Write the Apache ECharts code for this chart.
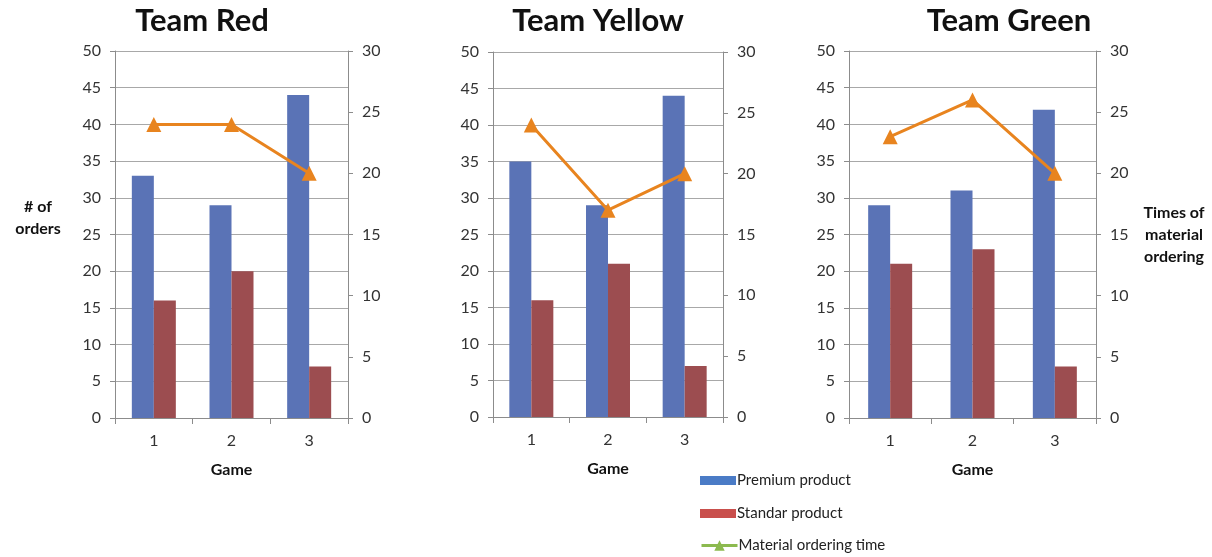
<!DOCTYPE html>
<html>
<head>
<meta charset="utf-8">
<script src="https://cdn.jsdelivr.net/npm/echarts@6/dist/echarts.min.js"></script>
<style>
  html, body { margin: 0; padding: 0; background: #ffffff; }
  #chart { width: 1212px; height: 557px; }
</style>
</head>
<body>
<div id="chart"></div>
<script>
// Game numbers on the category axis
const games = ['1', '2', '3'];
const teamNames = ['Team Red', 'Team Yellow', 'Team Green'];

// Orders of premium / standard product per game, and times material was ordered
const premiumRed = [33, 29, 44];
const standardRed = [16, 20, 7];
const orderingRed = [24, 24, 20];

const premiumYellow = [35, 29, 44];
const standardYellow = [16, 21, 7];
const orderingYellow = [24, 17, 20];

const premiumGreen = [29, 31, 42];
const standardGreen = [21, 23, 7];
const orderingGreen = [23, 26, 20];

const seriesNames = ['Premium product', 'Standar product', 'Material ordering time'];

const premiumSets = [premiumRed, premiumYellow, premiumGreen];
const standardSets = [standardRed, standardYellow, standardGreen];
const orderingSets = [orderingRed, orderingYellow, orderingGreen];

const FONT = 'Lato, "Open Sans", sans-serif';
const BLUE = '#5a73b6';
const RED = '#9c4d50';
const ORANGE = '#e8841f';
const GRID_LINE = '#a8a8a8';
const AXIS_LINE = '#8c8c8c';
const LABEL = '#333333';

const grids = [
  { left: 115, top: 51, width: 233, height: 367 },
  { left: 493, top: 52, width: 230, height: 365 },
  { left: 849, top: 51, width: 247, height: 367 }
];
const titleCenters = [197, 593, 1004];

const chart = echarts.init(document.getElementById('chart'));

const xAxes = [], yAxes = [], series = [], titles = [];

grids.forEach((g, i) => {
  titles.push({
    text: teamNames[i],
    left: titleCenters[i],
    top: 0,
    textAlign: 'center',
    textStyle: { fontFamily: FONT, fontWeight: 'bold', fontSize: 31, color: '#111111' }
  });

  xAxes.push({
    type: 'category',
    gridIndex: i,
    data: games,
    name: 'Game',
    nameLocation: 'middle',
    nameGap: 44,
    nameTextStyle: { fontFamily: FONT, fontWeight: 'bold', fontSize: 16, color: '#111111' },
    axisLine: { lineStyle: { color: AXIS_LINE, width: 1 } },
    axisTick: { show: true, length: 6, lineStyle: { color: AXIS_LINE } },
    axisLabel: { fontFamily: FONT, fontSize: 16, color: LABEL, margin: 15 }
  });

  // left value axis (orders)
  yAxes.push({
    type: 'value',
    gridIndex: i,
    position: 'left',
    min: 0, max: 50, interval: 5,
    axisLine: { show: true, lineStyle: { color: AXIS_LINE, width: 1 } },
    axisTick: { show: true, length: 5, lineStyle: { color: AXIS_LINE } },
    axisLabel: { fontFamily: FONT, fontSize: 16, color: LABEL, margin: 14 },
    splitLine: { show: true, lineStyle: { color: GRID_LINE, width: 1 } }
  });

  // right value axis (times of material ordering)
  yAxes.push({
    type: 'value',
    gridIndex: i,
    position: 'right',
    min: 0, max: 30, interval: 5,
    name: i === 2 ? 'Times of\nmaterial\nordering' : '',
    nameLocation: 'middle',
    nameRotate: 0,
    nameGap: 78,
    nameTextStyle: { fontFamily: FONT, fontWeight: 'bold', fontSize: 16, color: '#111111', lineHeight: 22, align: 'center' },
    axisLine: { show: true, lineStyle: { color: AXIS_LINE, width: 1 } },
    axisTick: { show: true, length: 5, lineStyle: { color: AXIS_LINE } },
    axisLabel: { fontFamily: FONT, fontSize: 16, color: LABEL, margin: 14 },
    splitLine: { show: false }
  });

  series.push({
    name: seriesNames[0],
    type: 'bar',
    xAxisIndex: i,
    yAxisIndex: i * 2,
    data: premiumSets[i],
    barWidth: 22,
    barGap: '0%',
    itemStyle: { color: BLUE }
  });
  series.push({
    name: seriesNames[1],
    type: 'bar',
    xAxisIndex: i,
    yAxisIndex: i * 2,
    data: standardSets[i],
    barWidth: 22,
    barGap: '0%',
    itemStyle: { color: RED }
  });
  series.push({
    name: seriesNames[2],
    type: 'line',
    xAxisIndex: i,
    yAxisIndex: i * 2 + 1,
    data: orderingSets[i],
    symbol: 'triangle',
    symbolSize: 15,
    lineStyle: { color: ORANGE, width: 3 },
    itemStyle: { color: ORANGE },
    z: 5
  });
});

// caption of the shared left value axis, beside the first panel
titles.push({
  text: '# of\norders',
  left: 38,
  top: 196,
  textAlign: 'center',
  padding: 0,
  textStyle: { fontFamily: FONT, fontWeight: 'bold', fontSize: 16, color: '#111111', lineHeight: 22 }
});

// one legend block per entry, stacked beneath the middle panel
const legendEntries = [
  { name: seriesNames[0], icon: 'rect', itemStyle: { color: '#4a7bc6' } },
  { name: seriesNames[1], icon: 'rect', itemStyle: { color: '#c94f4c' } },
  { name: seriesNames[2], itemStyle: { color: '#8cba4f' }, lineStyle: { color: '#8cba4f', width: 3 } }
];
const legendTops = [473, 506, 538];
const legendIconHeights = [9, 9, 13];
const legends = legendEntries.map((entry, k) => ({
  orient: 'vertical',
  left: 700,
  top: legendTops[k],
  padding: 0,
  itemWidth: 36,
  itemHeight: legendIconHeights[k],
  itemGap: 0,
  textStyle: { fontFamily: FONT, fontSize: 15, color: '#222222', padding: [0, 0, 0, -4] },
  data: [entry]
}));

chart.setOption({
  backgroundColor: '#ffffff',
  animation: false,
  title: titles,
  grid: grids,
  xAxis: xAxes,
  yAxis: yAxes,
  legend: legends,
  series: series
});
</script>
</body>
</html>
